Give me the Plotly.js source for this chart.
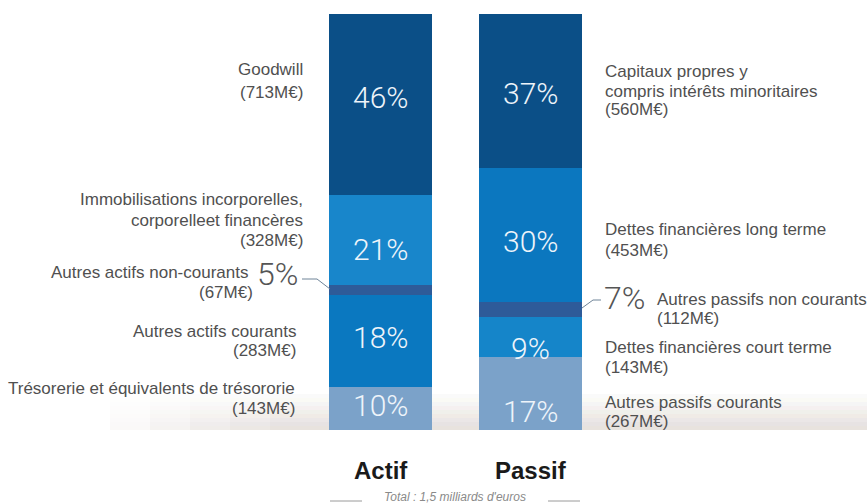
<!DOCTYPE html>
<html>
<head>
<meta charset="utf-8">
<script src="https://cdn.plot.ly/plotly-3.0.1.min.js"></script>
<style>html,body{margin:0;padding:0;background:#fff;}#chart{width:867px;height:503px;}</style>
</head>
<body>
<div id="chart"></div>
<script>
// ---------- DATA (bottom segment first) ----------
const categories = ['Actif', 'Passif'];

const actifNames = ['Trésorerie et équivalents de trésororie', 'Autres actifs courants', 'Autres actifs non-courants', 'Immobilisations incorporelles,<br>corporelleet financères', 'Goodwill'];
const actifMEur = [143, 283, 67, 328, 713];
const actifPct = [10, 18, 5, 21, 46];
// segment heights as drawn in the picture (share of bar height, %)
const actifSizes = [10.3, 22.1, 2.4, 21.6, 43.6];

const passifNames = ['Autres passifs courants', 'Dettes financières court terme', 'Autres passifs non courants', 'Dettes financières long terme', 'Capitaux propres y<br>compris intérêts minoritaires'];
const passifMEur = [267, 143, 112, 453, 560];
const passifPct = [17, 9, 7, 30, 37];
const passifSizes = [17.5, 9.6, 3.6, 32.2, 37.1];

const totalText = 'Total : 1,5 milliards d\'euros';

// ---------- STYLE ----------
const actifColors = ['#7ba2c9', '#0a78c0', '#2e5b99', '#1886cb', '#0b4f87'];
const passifColors = ['#7ba2c9', '#1585c9', '#2e5b99', '#0b77bf', '#0b4f87'];
const W = 867, H = 503, TOP = 14, BOT = 430;
const PXU = 150;               // pixels per category unit
const C0 = 380.5;              // pixel centre of first bar
const xr = [-C0 / PXU, (W - C0) / PXU];
const px = p => p / W;                         // paper x from pixel
const py = p => (BOT - p) / (BOT - TOP);       // paper y from pixel
const labelColor = '#505050';
const labelFont = {family: 'Liberation Sans, Arial, sans-serif', size: 17, color: labelColor};
const pctFont = {family: 'Roboto, Liberation Sans, sans-serif', size: 30, color: '#eef4fa', weight: 300};
const bigPctFont = {family: 'Roboto, Liberation Sans, sans-serif', size: 32, color: '#555', weight: 300};

const traces = [];
function addSide(cat, sizes, names, colors) {
  sizes.forEach((v, i) => {
    traces.push({type: 'bar', x: [cat], y: [v], name: names[i], width: 0.687,
      marker: {color: colors[i], line: {width: 0}}, hoverinfo: 'skip', showlegend: false});
  });
}
addSide(categories[0], actifSizes, actifNames, actifColors);
addSide(categories[1], passifSizes, passifNames, passifColors);

const annotations = [];
function txt(text, x, y, xanchor, font, extra) {
  annotations.push(Object.assign({text: text, x: x, y: y, xref: 'paper', yref: 'paper',
    xanchor: xanchor, yanchor: 'middle', showarrow: false, font: font}, extra || {}));
}

// percentages inside bars (centred on segment, small optical shifts)
const actifShift = [3, 4, 0, -9, 7];
const passifShift = [-18, -11, 0, -6, -2];
function pctLabels(cat, sizes, pct, shifts, skip) {
  let cum = 0;
  sizes.forEach((v, i) => {
    const c = cum + v / 2; cum += v;
    if (i === skip) return;
    annotations.push({text: pct[i] + '%', x: cat, y: c, xref: 'x', yref: 'y', showarrow: false,
      xanchor: 'center', yanchor: 'middle', yshift: shifts[i], font: pctFont});
  });
}
pctLabels(categories[0], actifSizes, actifPct, actifShift, 2);
pctLabels(categories[1], passifSizes, passifPct, passifShift, 2);

const meur = v => '(' + v + 'M€)';
function lines(s) { return s.split('<br>'); }

// left labels (right-aligned)
const actifLabelPos = [ // [first line y, line step, right edge]
  [388, 20, 297], [331, 19, 298], [272, 20, 250], [199, 21, 305], [70, 22, 305]];
actifNames.forEach((n, i) => {
  const [y0, st, xr_] = actifLabelPos[i];
  const ls = lines(n);
  ls.forEach((l, k) => txt(l, px(xr_), py(y0 + k * st), 'right', labelFont));
  txt(meur(actifMEur[i]), px(i === 2 ? 255 : xr_), py(y0 + ls.length * st), 'right', labelFont);
});
// right labels (left-aligned)
const passifLabelPos = [[402, 19, 603], [347, 20, 603], [299, 19, 655], [229, 21, 603], [72, 19, 603]];
passifNames.forEach((n, i) => {
  const [y0, st, xl] = passifLabelPos[i];
  const ls = lines(n);
  ls.forEach((l, k) => txt(l, px(xl), py(y0 + k * st), 'left', labelFont));
  txt(meur(passifMEur[i]), px(xl), py(y0 + ls.length * st), 'left', labelFont);
});
// small segments: big outside percentages
txt(actifPct[2] + '%', px(300), py(274), 'right', bigPctFont);
txt(passifPct[2] + '%', px(602), py(298), 'left', bigPctFont);

// bottom titles
const catFont = {family: 'Liberation Sans, Arial, sans-serif', size: 24, color: '#1a1a1a', weight: 'bold'};
txt(categories[0], px(380.5), py(470), 'center', catFont);
txt(categories[1], px(530.5), py(470), 'center', catFont);
txt(totalText, px(455), py(497), 'center',
  {family: 'Liberation Sans, Arial, sans-serif', size: 12, color: '#8a8a8a', style: 'italic'});

// decorative shapes
const shapes = [];
// floor shadow: vertical bands x horizontal fade
const vBands = 9, hSteps = [110, 150, 190, 230, 270];
for (let k = 0; k < vBands; k++) {
  const y1 = 430 - k * 4, y2 = 430 - (k + 1) * 4;
  hSteps.forEach(x0 => {
    shapes.push({type: 'rect', xref: 'paper', yref: 'paper', x0: px(x0), x1: px(867),
      y0: py(y1), y1: py(y2), fillcolor: '#b0a196', opacity: 0.065 * (1 - k / vBands),
      line: {width: 0}, layer: 'below'});
  });
}
// connector lines
const conn = {type: 'path', xref: 'paper', yref: 'paper', line: {color: '#6f8498', width: 1}};
shapes.push(Object.assign({}, conn, {path: `M${px(302)},${py(279)} L${px(317)},${py(279)} L${px(330)},${py(289)}`}));
shapes.push(Object.assign({}, conn, {path: `M${px(582)},${py(308)} L${px(593)},${py(300)} L${px(601)},${py(300)}`}));
// total rules
const rule = {type: 'line', xref: 'paper', yref: 'paper', line: {color: '#9a9a9a', width: 1}};
shapes.push(Object.assign({}, rule, {x0: px(330), x1: px(362), y0: py(501), y1: py(501)}));
shapes.push(Object.assign({}, rule, {x0: px(548), x1: px(580), y0: py(501), y1: py(501)}));

const layout = {
  width: W, height: H, barmode: 'stack', bargap: 0,
  margin: {l: 0, r: 0, t: TOP, b: H - BOT, pad: 0},
  paper_bgcolor: '#ffffff', plot_bgcolor: 'rgba(0,0,0,0)',
  xaxis: {type: 'category', range: xr, visible: false, fixedrange: true},
  yaxis: {range: [0, 100], visible: false, fixedrange: true},
  showlegend: false, annotations: annotations, shapes: shapes
};
Plotly.newPlot('chart', traces, layout, {displayModeBar: false, staticPlot: true});
</script>
</body>
</html>
